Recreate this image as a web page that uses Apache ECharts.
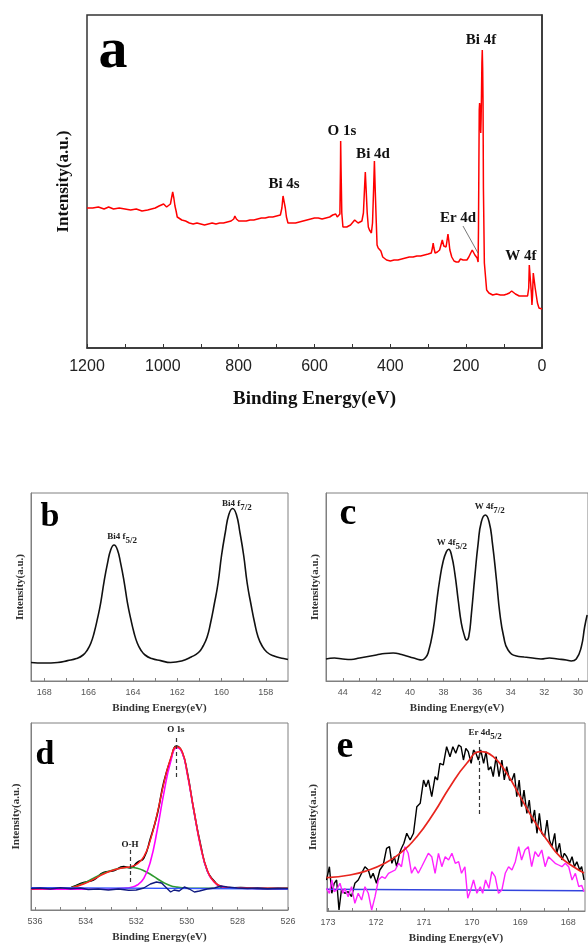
<!DOCTYPE html>
<html>
<head>
<meta charset="utf-8">
<script src="https://cdn.jsdelivr.net/npm/echarts@6/dist/echarts.min.js"></script>
<style>html,body{margin:0;padding:0;background:#fff;}#c{width:588px;height:947px;}</style>
</head>
<body>
<div id="c"></div>
<script>
// ---------- Panel a : survey spectrum ----------
var aEnergy = [1200,1185,1170,1155,1143,1130,1115,1100,1085,1070,1055,1040,1030,1020,1010,1005,998,995,990,985,980,977,974,971,968,965,962,957,950,945,940,930,920,910,900,890,880,870,860,850,840,830,820,813,810,806,800,790,780,770,760,750,740,730,720,710,700,690,686,683,680,677,674,670,665,660,650,640,630,620,610,600,590,580,570,560,552,548,544,540,536,533,531.5,531,530,528,525,520,515,510,505,500,494,490,485,480,475,471,468,466,464,461,458,455,450,447,444,442,440,437,435,432,428,425,420,415,410,405,400,390,380,370,360,350,340,330,320,310,300,292,289,287,285,282,276,270,266,263,261,259,257,253,251,248,246,243,238,232,226,220,215,212,208,203,198,193,188,184,181,177,174,171,169.5,168.5,167.5,166.5,165.5,164.5,163.5,162.5,161.5,160.5,159.5,158.5,157.5,156.5,155.5,154.5,152,146,140,130,120,115,110,105,100,96,92,86,80,70,60,52,48,44,41,39.5,38,36.5,35,33.5,31,28,26.5,25,23,18,12,8,4,0];
var aIntensity = [140,140,141,139,141,139,140,139,138,139,137,138,139,140,142,141,144,146,141,140,144,150,156,150,142,137,131,129,128,129,127,125,124,125,124,123,124,125,124,125,125,126,127,129,132,129,127,127,127,128,128,129,130,130,131,131,132,133,140,152,151,140,131,125,124,125,125,126,127,128,129,130,130,129,130,131,133,135,134,131,129,134,180,207,180,135,121,122,121,122,123,125,128,126,125,126,127,135,160,176,160,135,121,118,115,125,160,187,160,125,103,100,101,97,91,89,88,87,87,88,88,89,90,91,91,92,92,93,94,95,100,105,100,95,96,98,100,108,110,102,100,101,106,114,108,98,91,87,86,86,89,90,88,86,88,91,95,98,97,93,91,90,88,86,120,180,238,245,240,225,215,230,255,285,298,280,245,160,85,58,55,53,54,52,53,55,53,52,54,55,57,54,52,52,51,52,53,53,52,50,60,83,70,55,43,52,75,60,45,40,39,39,38,36,35];
var aTickValues = [0,100,200,300,400,500,600,700,800,900,1000,1100,1200];
var aTickLabels = [0,200,400,600,800,1000,1200];
var aPeakNames = ['Bi 4f','O 1s','Bi 4d','Bi 4s','Er 4d','W 4f'];
var aPeakEnergy = [160.9,527.5,445.7,680.4,221.5,55.4];
var aPeakLevel = [308,217,194,164,130,92];

// ---------- Panel b : Bi 4f ----------
var bEnergy = [168.6,168.0,167.4,166.95,166.55,166.25,166.05,165.9,165.75,165.6,165.45,165.3,165.15,165.0,164.85,164.7,164.55,164.4,164.25,164.1,163.95,163.8,163.65,163.45,163.15,162.75,162.3,161.8,161.37,161.04,160.82,160.65,160.5,160.33,160.16,160.0,159.83,159.67,159.5,159.33,159.17,159.0,158.84,158.67,158.5,158.35,158.18,157.96,157.63,157.2,157.0];
var bIntensity = [18.5,18,18.5,20.4,22.5,26,31.3,37.7,48.3,62.3,78.7,99.7,117.3,131.3,136,131.3,117.3,99.7,78.7,62.3,48.3,37.7,31.3,26,22.5,20.4,18.5,20,24,28.5,35.5,44,57.5,76.5,97.5,125.5,148.5,166.5,172.5,166.5,148.5,125.5,97.5,76.5,57.5,44,35.5,29,25,22.5,21.5];
var bTickValues = [158,159,160,161,162,163,164,165,166,167,168];
var bTickLabels = [158,160,162,164,166,168];
var bPeakEnergy = [164.49,159.31];
var bPeakLevel = [144,177];

// ---------- Panel c : W 4f ----------
var cEnergy = [45.0,44.5,44.0,43.5,43.0,42.5,42.0,41.5,41.0,40.5,40.0,39.6,39.3,39.1,38.92,38.62,38.42,38.23,38.03,37.83,37.69,37.53,37.33,37.13,36.94,36.74,36.64,36.5,36.34,36.14,35.94,35.75,35.51,35.29,35.09,34.85,34.65,34.42,34.16,33.66,33.2,32.7,32.2,31.7,31.2,30.7,30.4,30.1,29.8,29.6,29.45];
var cIntensity = [22,23,22,21.5,23,24.5,26,27.5,28,26.5,24,22,21,23,28,51,77.7,101,119.3,129.3,131.7,126,107.7,81,57.7,44.3,41,44.3,67.7,104.3,137.7,159.3,166,159.3,137.7,101,67.7,44.3,31,25,24,23,22,23,22,21,20,22,34,54,66];
var cTickValues = [30,31,32,33,34,35,36,37,38,39,40,41,42,43,44,45];
var cTickLabels = [30,32,34,36,38,40,42,44];
var cPeakEnergy = [37.51,35.25];
var cPeakLevel = [138,174];

// ---------- Panel d : O 1s ----------
var dEnergy = [536.16,535.5,534.74,534.48,534.08,533.69,533.29,532.89,532.5,532.23,531.96,531.7,531.44,531.17,530.91,530.64,530.4,530.18,529.98,529.72,529.45,529.19,528.92,528.66,528.39,527.87,527.0,526.0];
var dRaw = [21.2,22.0,21.0,23.5,27.5,30.0,37.5,39.2,43.5,42.0,47.5,52.0,71.5,95.5,128.0,150.5,164.0,157.5,137.5,99.0,64.5,39.0,29.0,23.0,22.0,22.5,21.0,21.5];
var dFit = [21,21.5,21.7,22.7,26,30.7,36,40,42.3,43.3,46,53.3,70,96.7,126.7,151.7,163.3,158.3,136.7,100,63.3,40,28.3,24,22.7,21.7,21.7,21.7];
var dLattice = [20.7,20.7,20.7,20.7,20.7,20.7,20.7,21,21.7,22.5,25,31.7,48.3,80,116.7,148.3,162.3,157.3,135.7,99.3,62.7,39.3,28,23.7,22.3,21.7,21.5,21.3];
var dHydroxyl = [21.7,21.7,21.7,23,26.7,31.7,36.7,40.3,42.3,42.7,41.7,39.3,35.7,31.3,27.3,24.3,22.9,22.2,21.7,21.7,21.7,21.7,21.7,21.7,21.7,21.7,21.7,21.7];
var dResidEnergy = [536.16,535.8,535.4,535.0,534.6,534.2,533.9,533.5,533.1,532.7,532.3,532.0,531.7,531.44,531.2,531.0,530.8,530.64,530.5,530.3,530.1,529.9,529.7,529.5,529.2,528.9,528.66,528.4,528.0,527.6,527.2,526.8,526.4,526.0];
var dResid = [21.5,22,21,22.3,21.3,22,20.5,21,20,21,19.7,20,22,26,28,27,22,18,20,19,23,21,18,19,21,22,24,23,22,21.5,22,21.3,21.7,21.5];
var dBaseEnergy = [536.16,526.0];
var dBase = [22.3,21.0];
var dTickValues = [526,527,528,529,530,531,532,533,534,535,536];
var dTickLabels = [526,528,530,532,534,536];

// ---------- Panel e : Er 4d ----------
var eRawEnergy = [173.03,172.97,172.92,172.87,172.82,172.77,172.72,172.65,172.58,172.51,172.44,172.37,172.30,172.23,172.16,172.11,172.06,171.99,171.92,171.85,171.78,171.72,171.67,171.62,171.57,171.51,171.47,171.42,171.36,171.29,171.22,171.15,171.08,171.01,170.96,170.91,170.84,170.77,170.72,170.67,170.60,170.53,170.46,170.40,170.34,170.28,170.23,170.18,170.13,170.08,170.02,169.97,169.92,169.87,169.82,169.76,169.71,169.66,169.61,169.56,169.50,169.44,169.38,169.33,169.28,169.22,169.17,169.12,169.07,169.02,168.97,168.92,168.86,168.81,168.76,168.70,168.65,168.60,168.55,168.49,168.44,168.39,168.34,168.28,168.24,168.18,168.13,168.08,168.03,167.97,167.92,167.87,167.82,167.76,167.72,167.67];
var eRaw = [31,44.3,17.7,27.7,31,1,21,17.7,19.3,14.3,27.7,31,37.7,44.3,41,32.7,37.7,27.7,41,46,62.7,64.3,47.7,54.3,44.3,57.7,62.7,67.7,77.7,71,77.7,104.3,107.7,131,124.3,131,114.3,134.3,131,147.7,146,164.3,154.3,164.3,157.7,166,164.3,151,162.7,159.3,147.7,161,157.7,151,161,147.7,159.3,141,144.3,134.3,154.3,134.3,151,131,144.3,131,131,137.7,114.3,131,104.3,121,97.7,111,87.7,101,77.7,97.7,77.7,74.3,91,71,64.3,77.7,57.7,67.7,51,57.7,54.3,47.7,54.3,44.3,49.3,41,44.3,31];
var eFitEnergy = [173.03,172.54,172.19,171.85,171.5,171.15,170.8,170.46,170.11,169.83,169.56,169.28,169.0,168.72,168.44,168.17,167.89,167.67];
var eFit = [33.3,36,40.3,47,57.7,74.3,97.7,124.3,147.7,159.3,154.3,137.7,114.3,91,71,54.3,44.3,38];
var eResidEnergy = [173.03,172.97,172.92,172.87,172.82,172.75,172.69,172.65,172.58,172.51,172.44,172.37,172.30,172.23,172.16,172.09,172.02,171.95,171.88,171.81,171.74,171.67,171.60,171.53,171.47,171.40,171.33,171.26,171.19,171.12,171.05,170.98,170.91,170.84,170.77,170.70,170.63,170.56,170.49,170.42,170.35,170.28,170.22,170.15,170.09,170.03,169.97,169.90,169.83,169.78,169.72,169.65,169.59,169.52,169.45,169.38,169.31,169.24,169.17,169.10,169.03,168.97,168.90,168.83,168.76,168.69,168.62,168.55,168.48,168.41,168.34,168.27,168.20,168.13,168.06,167.99,167.92,167.85,167.78,167.72,167.67];
var eResid = [22.7,17.7,31,19.3,21,27.7,17.7,22.7,14.3,24.3,7.7,17.7,11,24.3,17.7,1,14.3,31,34.3,32.7,37.7,39.3,41,47.7,44.3,64.3,57.7,37.7,44.3,37.7,44.3,51,57.7,54.3,37.7,57.7,44.3,54.3,51,57.7,47.7,49.3,37.7,44.3,12.7,21,31,17.7,24.3,17.7,31,22.7,39.3,34.3,17.7,21,37.7,44.3,41,49.3,64.3,51,61,64.3,44.3,59.3,54.3,61,44.3,54.3,51,47.7,46,44.3,47.7,44.3,31,37.7,24.3,25.7,19.3];
var eBaseEnergy = [173.03,167.67];
var eBase = [21.7,20.3];
var eTickValues = [168,168.5,169,169.5,170,170.5,171,171.5,172,172.5,173];
var eTickLabels = [168,169,170,171,172,173];

// ---------- build ----------
function pairs(xs, ys){ return xs.map(function(x,i){ return [x, ys[i]]; }); }
var SERIF = '"Liberation Serif","Times New Roman",serif';
var SANS = '"Liberation Sans",Arial,sans-serif';

function xAx(gi, min, max, ticks, labels, big){
  return {
    gridIndex: gi, type: 'value', min: min, max: max, inverse: true,
    name: 'Binding Energy(eV)', nameLocation: 'middle', nameGap: big ? 42 : 22,
    nameTextStyle: {fontFamily: SERIF, fontWeight: 'bold', fontSize: big ? 19 : 11, color: big ? '#111' : '#333'},
    axisLine: {show: true, lineStyle: {color: big ? '#333' : '#808080', width: big ? 1.5 : 1}},
    axisTick: {show: true, inside: true, length: big ? 4 : 3, customValues: ticks, lineStyle: {color: big ? '#333' : '#808080', width: 1}},
    minorTick: {show: false},
    axisLabel: {show: true, customValues: labels, margin: big ? 11 : 7, fontSize: big ? 16 : 9, fontFamily: SANS, color: big ? '#222' : '#555',
      showMinLabel: true, showMaxLabel: true, formatter: function(v){ return String(v); }},
    splitLine: {show: false}
  };
}
function yAx(gi, max, big, gap){
  return {
    gridIndex: gi, type: 'value', min: 0, max: max,
    name: 'Intensity(a.u.)', nameLocation: 'middle', nameGap: gap,
    nameTextStyle: {fontFamily: SERIF, fontWeight: 'bold', fontSize: big ? 17 : 11, color: big ? '#111' : '#333'},
    axisLine: {show: true, lineStyle: {color: big ? '#333' : '#808080', width: big ? 1.5 : 1}},
    axisTick: {show: false}, axisLabel: {show: false}, splitLine: {show: false}
  };
}
function line(xi, data, color, width, smooth, extra){
  var s = {type: 'line', xAxisIndex: xi, yAxisIndex: xi, data: data, showSymbol: false, symbol: 'none',
    smooth: smooth, silent: true, lineStyle: {color: color, width: width}, z: 2};
  if (extra) for (var k in extra) s[k] = extra[k];
  return s;
}
function peakMarks(names, energies, levels, fontSize, rich){
  return {
    symbol: 'circle', symbolSize: 0, silent: true,
    label: {show: true, position: 'inside', fontFamily: SERIF, fontWeight: 'bold', fontSize: fontSize, color: '#111',
      formatter: function(p){ return p.name; }, rich: rich},
    data: names.map(function(n,i){ return {name: n, coord: [energies[i], levels[i]]}; })
  };
}
var subRich = {
  m: {fontFamily: SERIF, fontWeight: 'bold', fontSize: 9, color: '#222', lineHeight: 10},
  s: {fontFamily: SERIF, fontWeight: 'bold', fontSize: 9, color: '#222', lineHeight: 17, verticalAlign: 'bottom'}
};

var option = {
  animation: false,
  backgroundColor: '#fff',
  grid: [
    {left: 87, top: 15, width: 455, height: 333, show: true, borderColor: '#333', borderWidth: 1.5},
    {left: 31, top: 493, width: 257, height: 188, show: true, borderColor: '#808080', borderWidth: 1},
    {left: 326, top: 493, width: 262, height: 188, show: true, borderColor: '#808080', borderWidth: 1},
    {left: 31, top: 723, width: 257, height: 187, show: true, borderColor: '#808080', borderWidth: 1},
    {left: 327, top: 723, width: 258, height: 188, show: true, borderColor: '#808080', borderWidth: 1}
  ],
  xAxis: [
    xAx(0, 0, 1200, aTickValues, aTickLabels, true),
    xAx(1, 157, 168.6, bTickValues, bTickLabels, false),
    xAx(2, 29.4, 45, cTickValues, cTickLabels, false),
    xAx(3, 526, 536.16, dTickValues, dTickLabels, false),
    xAx(4, 167.65, 173.02, eTickValues, eTickLabels, false)
  ],
  yAxis: [
    yAx(0, 333, true, 15),
    yAx(1, 188, false, 5),
    yAx(2, 188, false, 5.5),
    yAx(3, 187, false, 9),
    yAx(4, 188, false, 8.5)
  ],
  graphic: [
    {type: 'text', style: {x: 113, y: 52, text: 'a', textAlign: 'center', textVerticalAlign: 'middle', font: 'bold 58px ' + SERIF, fill: '#000'}},
    {type: 'text', style: {x: 50, y: 517, text: 'b', textAlign: 'center', textVerticalAlign: 'middle', font: 'bold 34px ' + SERIF, fill: '#000'}},
    {type: 'text', style: {x: 348, y: 514, text: 'c', textAlign: 'center', textVerticalAlign: 'middle', font: 'bold 38px ' + SERIF, fill: '#000'}},
    {type: 'text', style: {x: 45, y: 755, text: 'd', textAlign: 'center', textVerticalAlign: 'middle', font: 'bold 34px ' + SERIF, fill: '#000'}},
    {type: 'text', style: {x: 345, y: 747, text: 'e', textAlign: 'center', textVerticalAlign: 'middle', font: 'bold 38px ' + SERIF, fill: '#000'}}
  ],
  series: [
    line(0, pairs(aEnergy, aIntensity), '#ff0000', 1.5, false, {
      markPoint: peakMarks(aPeakNames, aPeakEnergy, aPeakLevel, 15),
      markLine: {symbol: 'none', silent: true, label: {show: false}, lineStyle: {color: '#555', width: 0.8, type: 'solid'},
        data: [[{coord: [208.4, 122]}, {coord: [168.8, 95]}]]}
    }),
    line(1, pairs(bEnergy, bIntensity), '#111', 1.6, true, {
      markPoint: peakMarks(['{m|Bi4 f}{s|5/2}', '{m|Bi4 f}{s|7/2}'], bPeakEnergy, bPeakLevel, 9, subRich)
    }),
    line(2, pairs(cEnergy, cIntensity), '#111', 1.6, true, {
      markPoint: peakMarks(['{m|W 4f}{s|5/2}', '{m|W 4f}{s|7/2}'], cPeakEnergy, cPeakLevel, 9, subRich)
    }),
    line(3, pairs(dEnergy, dRaw), '#000', 1.6, true),
    line(3, pairs(dEnergy, dHydroxyl), '#2e9a2e', 1.6, true),
    line(3, pairs(dEnergy, dLattice), '#ff00ff', 1.6, true),
    line(3, pairs(dEnergy, dFit), '#ff2020', 1.4, true, {
      markPoint: peakMarks(['O 1s', 'O-H'], [530.43, 532.25], [180, 65], 9),
      markLine: {symbol: 'none', silent: true, label: {show: false}, lineStyle: {color: '#333', width: 1.2, type: [4, 3]},
        data: [[{coord: [530.43, 172]}, {coord: [530.43, 132]}], [{coord: [532.25, 60]}, {coord: [532.25, 27]}]]}
    }),
    line(3, pairs(dBaseEnergy, dBase), '#3355ff', 1.3, false),
    line(3, pairs(dResidEnergy, dResid), '#101a80', 1.4, false),
    line(4, pairs(eRawEnergy, eRaw), '#000', 1.4, false),
    line(4, pairs(eBaseEnergy, eBase), '#3344dd', 1.6, false),
    line(4, pairs(eResidEnergy, eResid), '#ff22ff', 1.4, false),
    line(4, pairs(eFitEnergy, eFit), '#e8251e', 1.7, true, {
      markPoint: peakMarks(['{m|Er 4d}{s|5/2}'], [169.73], [178], 9, subRich),
      markLine: {symbol: 'none', silent: true, label: {show: false}, lineStyle: {color: '#333', width: 1.2, type: [4, 3]},
        data: [[{coord: [169.85, 171]}, {coord: [169.85, 94]}]]}
    })
  ]
};
var chart = echarts.init(document.getElementById('c'), null, {renderer: 'canvas'});
chart.setOption(option);
</script>
</body>
</html>
